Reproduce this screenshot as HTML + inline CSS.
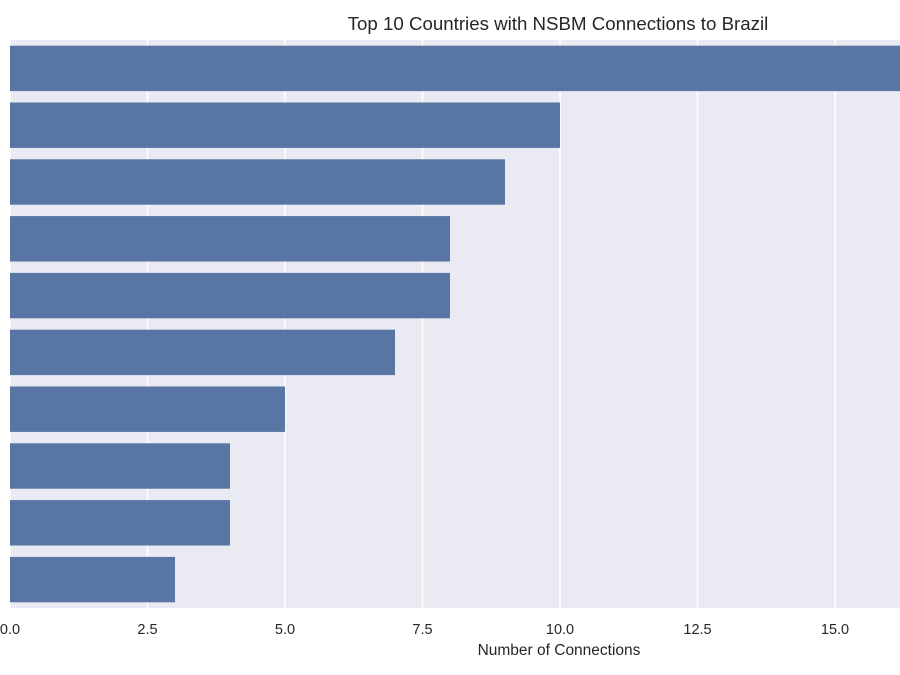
<!DOCTYPE html>
<html><head><meta charset="utf-8"><style>
body{margin:0;background:#fff;font-family:"Liberation Sans",sans-serif;}
</style></head><body>
<svg id="chart" width="900" height="675" style="display:block">
<text x="558" y="30" text-anchor="middle" font-size="18.7" fill="#262626">Top 10 Countries with NSBM Connections to Brazil</text>
<rect x="10" y="40" width="890" height="568" fill="#eaeaf2"/>
<g id="grid"></g><g id="bars"></g><g id="ticks"></g>
<text x="559" y="655" text-anchor="middle" font-size="15.5" fill="#262626">Number of Connections</text>
</svg>
<script>
const categories=["C1","C2","C3","C4","C5","C6","C7","C8","C9","C10"];
const values=[17,10,9,8,8,7,5,4,4,3];
const tickValues=[0,2.5,5,7.5,10,12.5,15];
const tickLabels=["0.0","2.5","5.0","7.5","10.0","12.5","15.0"];
const NS="http://www.w3.org/2000/svg";
const xs=v=>10+v*55;
const plotTop=40,band=56.8;
const ys=i=>plotTop+i*band;
const grid=document.getElementById('grid'),bars=document.getElementById('bars'),ticks=document.getElementById('ticks');
tickValues.forEach((t,i)=>{
 const l=document.createElementNS(NS,'line');
 l.setAttribute('x1',xs(t));l.setAttribute('x2',xs(t));l.setAttribute('y1',40);l.setAttribute('y2',608);
 l.setAttribute('stroke','#fff');l.setAttribute('stroke-width','1.5');
 
 
 grid.appendChild(l);
 const tx=document.createElementNS(NS,'text');
 tx.setAttribute('x',xs(t));tx.setAttribute('y',634);tx.setAttribute('text-anchor','middle');
 tx.setAttribute('font-size','14.5');tx.setAttribute('fill','#262626');
 tx.textContent=tickLabels[i];
 
 
 ticks.appendChild(tx);
});
values.forEach((v,i)=>{
 const r=document.createElementNS(NS,'rect');
 r.setAttribute('x',xs(0));r.setAttribute('y',ys(i)+band*0.1);
 r.setAttribute('width',Math.max(0,xs(v)-xs(0)));r.setAttribute('height',band*0.8);
 r.setAttribute('fill','#5975a4');
 
 
 bars.appendChild(r);
});
</script>
</body></html>
